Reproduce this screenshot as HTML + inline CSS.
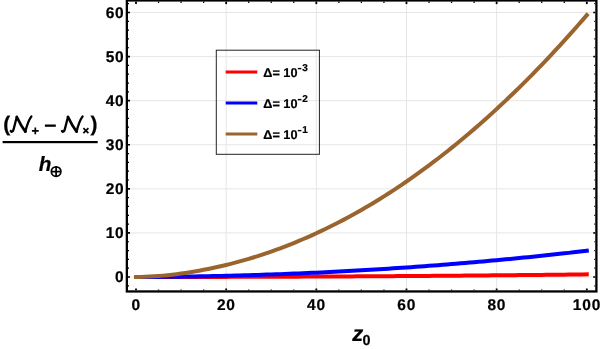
<!DOCTYPE html>
<html><head><meta charset="utf-8"><title>plot</title>
<style>
html,body{margin:0;padding:0;background:#fff;}
body{width:600px;height:349px;overflow:hidden;}
svg{display:block;will-change:transform;}
text{font-family:"Liberation Sans",sans-serif;font-weight:bold;fill:#000;text-rendering:geometricPrecision;stroke:#000;stroke-width:0.22px;}
</style></head><body>
<svg width="600" height="349" viewBox="0 0 600 349">
<rect width="600" height="349" fill="#fff"/>
<g stroke="#e6e6e6" stroke-width="1" fill="none">
<line x1="226.16" y1="1" x2="226.16" y2="290"/>
<line x1="316.32" y1="1" x2="316.32" y2="290"/>
<line x1="406.48" y1="1" x2="406.48" y2="290"/>
<line x1="496.64" y1="1" x2="496.64" y2="290"/>
<line x1="128" y1="277.00" x2="595" y2="277.00"/>
<line x1="128" y1="232.92" x2="595" y2="232.92"/>
<line x1="128" y1="188.83" x2="595" y2="188.83"/>
<line x1="128" y1="144.75" x2="595" y2="144.75"/>
<line x1="128" y1="100.67" x2="595" y2="100.67"/>
<line x1="128" y1="56.58" x2="595" y2="56.58"/>
<line x1="128" y1="12.50" x2="595" y2="12.50"/>
</g>
<polyline points="136.00,277.00 140.51,277.00 145.02,277.00 149.52,277.00 154.03,276.99 158.54,276.99 163.05,276.99 167.56,276.98 172.06,276.98 176.57,276.97 181.08,276.97 185.59,276.96 190.10,276.95 194.60,276.94 199.11,276.94 203.62,276.93 208.13,276.92 212.64,276.91 217.14,276.90 221.65,276.89 226.16,276.88 230.67,276.87 235.18,276.86 239.68,276.84 244.19,276.83 248.70,276.82 253.21,276.81 257.72,276.79 262.22,276.78 266.73,276.76 271.24,276.75 275.75,276.73 280.26,276.71 284.76,276.70 289.27,276.68 293.78,276.66 298.29,276.64 302.80,276.62 307.30,276.60 311.81,276.58 316.32,276.56 320.83,276.54 325.34,276.52 329.84,276.50 334.35,276.48 338.86,276.45 343.37,276.43 347.88,276.40 352.38,276.38 356.89,276.35 361.40,276.33 365.91,276.30 370.42,276.28 374.92,276.25 379.43,276.22 383.94,276.19 388.45,276.16 392.96,276.14 397.46,276.11 401.97,276.08 406.48,276.05 410.99,276.01 415.50,275.98 420.00,275.95 424.51,275.92 429.02,275.88 433.53,275.85 438.04,275.82 442.54,275.78 447.05,275.74 451.56,275.71 456.07,275.67 460.58,275.64 465.08,275.60 469.59,275.56 474.10,275.52 478.61,275.48 483.12,275.44 487.62,275.40 492.13,275.36 496.64,275.32 501.15,275.28 505.66,275.24 510.16,275.19 514.67,275.15 519.18,275.11 523.69,275.06 528.20,275.02 532.70,274.97 537.21,274.92 541.72,274.88 546.23,274.83 550.74,274.78 555.24,274.73 559.75,274.69 564.26,274.64 568.77,274.59 573.28,274.54 577.78,274.49 582.29,274.43 586.80,274.38" fill="none" stroke="#ff0000" stroke-width="4" stroke-linecap="square" stroke-linejoin="round"/>
<polyline points="136.00,277.00 140.51,277.00 145.02,276.98 149.52,276.96 154.03,276.94 158.54,276.90 163.05,276.86 167.56,276.82 172.06,276.77 176.57,276.71 181.08,276.65 185.59,276.59 190.10,276.52 194.60,276.45 199.11,276.37 203.62,276.28 208.13,276.20 212.64,276.10 217.14,276.00 221.65,275.90 226.16,275.79 230.67,275.68 235.18,275.57 239.68,275.44 244.19,275.32 248.70,275.19 253.21,275.05 257.72,274.91 262.22,274.76 266.73,274.61 271.24,274.46 275.75,274.30 280.26,274.13 284.76,273.96 289.27,273.78 293.78,273.60 298.29,273.42 302.80,273.23 307.30,273.03 311.81,272.83 316.32,272.63 320.83,272.42 325.34,272.20 329.84,271.98 334.35,271.75 338.86,271.52 343.37,271.29 347.88,271.05 352.38,270.80 356.89,270.55 361.40,270.29 365.91,270.03 370.42,269.77 374.92,269.49 379.43,269.22 383.94,268.94 388.45,268.65 392.96,268.36 397.46,268.06 401.97,267.76 406.48,267.45 410.99,267.14 415.50,266.82 420.00,266.50 424.51,266.17 429.02,265.83 433.53,265.50 438.04,265.15 442.54,264.80 447.05,264.45 451.56,264.09 456.07,263.72 460.58,263.35 465.08,262.98 469.59,262.60 474.10,262.21 478.61,261.82 483.12,261.42 487.62,261.02 492.13,260.61 496.64,260.20 501.15,259.78 505.66,259.36 510.16,258.93 514.67,258.50 519.18,258.06 523.69,257.61 528.20,257.16 532.70,256.71 537.21,256.24 541.72,255.78 546.23,255.31 550.74,254.83 555.24,254.35 559.75,253.86 564.26,253.36 568.77,252.87 573.28,252.36 577.78,251.85 582.29,251.34 586.80,250.81" fill="none" stroke="#0000ff" stroke-width="4" stroke-linecap="square" stroke-linejoin="round"/>
<polyline points="136.00,277.00 140.51,276.95 145.02,276.83 149.52,276.62 154.03,276.35 158.54,276.02 163.05,275.63 167.56,275.18 172.06,274.69 176.57,274.14 181.08,273.54 185.59,272.90 190.10,272.20 194.60,271.46 199.11,270.67 203.62,269.84 208.13,268.95 212.64,268.02 217.14,267.05 221.65,266.02 226.16,264.95 230.67,263.83 235.18,262.66 239.68,261.44 244.19,260.18 248.70,258.86 253.21,257.50 257.72,256.09 262.22,254.63 266.73,253.12 271.24,251.57 275.75,249.96 280.26,248.30 284.76,246.60 289.27,244.84 293.78,243.04 298.29,241.18 302.80,239.28 307.30,237.32 311.81,235.32 316.32,233.26 320.83,231.16 325.34,229.00 329.84,226.80 334.35,224.54 338.86,222.24 343.37,219.88 347.88,217.47 352.38,215.01 356.89,212.50 361.40,209.94 365.91,207.33 370.42,204.66 374.92,201.95 379.43,199.18 383.94,196.37 388.45,193.50 392.96,190.58 397.46,187.60 401.97,184.58 406.48,181.50 410.99,178.38 415.50,175.20 420.00,171.97 424.51,168.68 429.02,165.35 433.53,161.96 438.04,158.52 442.54,155.03 447.05,151.48 451.56,147.89 456.07,144.24 460.58,140.53 465.08,136.78 469.59,132.97 474.10,129.11 478.61,125.19 483.12,121.23 487.62,117.20 492.13,113.13 496.64,109.00 501.15,104.82 505.66,100.59 510.16,96.30 514.67,91.96 519.18,87.57 523.69,83.12 528.20,78.61 532.70,74.06 537.21,69.45 541.72,64.78 546.23,60.06 550.74,55.29 555.24,50.46 559.75,45.58 564.26,40.65 568.77,35.65 573.28,30.61 577.78,25.51 582.29,20.35 586.80,15.15" fill="none" stroke="#9a642e" stroke-width="4" stroke-linecap="square" stroke-linejoin="round"/>
<rect x="126.85" y="0.45" width="469.54999999999995" height="291.0" fill="none" stroke="#000" stroke-width="2.3"/>
<g stroke="#000" fill="none">
<line x1="136.00" y1="290.30" x2="136.00" y2="288.50" stroke-width="1.8"/>
<line x1="136.00" y1="1.60" x2="136.00" y2="4.10" stroke-width="1.8"/>
<line x1="158.54" y1="290.30" x2="158.54" y2="289.50" stroke-width="1.3"/>
<line x1="158.54" y1="1.60" x2="158.54" y2="3.10" stroke-width="1.3"/>
<line x1="181.08" y1="290.30" x2="181.08" y2="289.50" stroke-width="1.3"/>
<line x1="181.08" y1="1.60" x2="181.08" y2="3.10" stroke-width="1.3"/>
<line x1="203.62" y1="290.30" x2="203.62" y2="289.50" stroke-width="1.3"/>
<line x1="203.62" y1="1.60" x2="203.62" y2="3.10" stroke-width="1.3"/>
<line x1="226.16" y1="290.30" x2="226.16" y2="288.50" stroke-width="1.8"/>
<line x1="226.16" y1="1.60" x2="226.16" y2="4.10" stroke-width="1.8"/>
<line x1="248.70" y1="290.30" x2="248.70" y2="289.50" stroke-width="1.3"/>
<line x1="248.70" y1="1.60" x2="248.70" y2="3.10" stroke-width="1.3"/>
<line x1="271.24" y1="290.30" x2="271.24" y2="289.50" stroke-width="1.3"/>
<line x1="271.24" y1="1.60" x2="271.24" y2="3.10" stroke-width="1.3"/>
<line x1="293.78" y1="290.30" x2="293.78" y2="289.50" stroke-width="1.3"/>
<line x1="293.78" y1="1.60" x2="293.78" y2="3.10" stroke-width="1.3"/>
<line x1="316.32" y1="290.30" x2="316.32" y2="288.50" stroke-width="1.8"/>
<line x1="316.32" y1="1.60" x2="316.32" y2="4.10" stroke-width="1.8"/>
<line x1="338.86" y1="290.30" x2="338.86" y2="289.50" stroke-width="1.3"/>
<line x1="338.86" y1="1.60" x2="338.86" y2="3.10" stroke-width="1.3"/>
<line x1="361.40" y1="290.30" x2="361.40" y2="289.50" stroke-width="1.3"/>
<line x1="361.40" y1="1.60" x2="361.40" y2="3.10" stroke-width="1.3"/>
<line x1="383.94" y1="290.30" x2="383.94" y2="289.50" stroke-width="1.3"/>
<line x1="383.94" y1="1.60" x2="383.94" y2="3.10" stroke-width="1.3"/>
<line x1="406.48" y1="290.30" x2="406.48" y2="288.50" stroke-width="1.8"/>
<line x1="406.48" y1="1.60" x2="406.48" y2="4.10" stroke-width="1.8"/>
<line x1="429.02" y1="290.30" x2="429.02" y2="289.50" stroke-width="1.3"/>
<line x1="429.02" y1="1.60" x2="429.02" y2="3.10" stroke-width="1.3"/>
<line x1="451.56" y1="290.30" x2="451.56" y2="289.50" stroke-width="1.3"/>
<line x1="451.56" y1="1.60" x2="451.56" y2="3.10" stroke-width="1.3"/>
<line x1="474.10" y1="290.30" x2="474.10" y2="289.50" stroke-width="1.3"/>
<line x1="474.10" y1="1.60" x2="474.10" y2="3.10" stroke-width="1.3"/>
<line x1="496.64" y1="290.30" x2="496.64" y2="288.50" stroke-width="1.8"/>
<line x1="496.64" y1="1.60" x2="496.64" y2="4.10" stroke-width="1.8"/>
<line x1="519.18" y1="290.30" x2="519.18" y2="289.50" stroke-width="1.3"/>
<line x1="519.18" y1="1.60" x2="519.18" y2="3.10" stroke-width="1.3"/>
<line x1="541.72" y1="290.30" x2="541.72" y2="289.50" stroke-width="1.3"/>
<line x1="541.72" y1="1.60" x2="541.72" y2="3.10" stroke-width="1.3"/>
<line x1="564.26" y1="290.30" x2="564.26" y2="289.50" stroke-width="1.3"/>
<line x1="564.26" y1="1.60" x2="564.26" y2="3.10" stroke-width="1.3"/>
<line x1="586.80" y1="290.30" x2="586.80" y2="288.50" stroke-width="1.8"/>
<line x1="586.80" y1="1.60" x2="586.80" y2="4.10" stroke-width="1.8"/>
<line x1="128.00" y1="285.82" x2="129.00" y2="285.82" stroke-width="1.2"/>
<line x1="595.25" y1="285.82" x2="594.25" y2="285.82" stroke-width="1.2"/>
<line x1="128.00" y1="277.00" x2="130.00" y2="277.00" stroke-width="1.6"/>
<line x1="595.25" y1="277.00" x2="593.25" y2="277.00" stroke-width="1.6"/>
<line x1="128.00" y1="268.18" x2="129.00" y2="268.18" stroke-width="1.2"/>
<line x1="595.25" y1="268.18" x2="594.25" y2="268.18" stroke-width="1.2"/>
<line x1="128.00" y1="259.37" x2="129.00" y2="259.37" stroke-width="1.2"/>
<line x1="595.25" y1="259.37" x2="594.25" y2="259.37" stroke-width="1.2"/>
<line x1="128.00" y1="250.55" x2="129.00" y2="250.55" stroke-width="1.2"/>
<line x1="595.25" y1="250.55" x2="594.25" y2="250.55" stroke-width="1.2"/>
<line x1="128.00" y1="241.73" x2="129.00" y2="241.73" stroke-width="1.2"/>
<line x1="595.25" y1="241.73" x2="594.25" y2="241.73" stroke-width="1.2"/>
<line x1="128.00" y1="232.92" x2="130.00" y2="232.92" stroke-width="1.6"/>
<line x1="595.25" y1="232.92" x2="593.25" y2="232.92" stroke-width="1.6"/>
<line x1="128.00" y1="224.10" x2="129.00" y2="224.10" stroke-width="1.2"/>
<line x1="595.25" y1="224.10" x2="594.25" y2="224.10" stroke-width="1.2"/>
<line x1="128.00" y1="215.28" x2="129.00" y2="215.28" stroke-width="1.2"/>
<line x1="595.25" y1="215.28" x2="594.25" y2="215.28" stroke-width="1.2"/>
<line x1="128.00" y1="206.47" x2="129.00" y2="206.47" stroke-width="1.2"/>
<line x1="595.25" y1="206.47" x2="594.25" y2="206.47" stroke-width="1.2"/>
<line x1="128.00" y1="197.65" x2="129.00" y2="197.65" stroke-width="1.2"/>
<line x1="595.25" y1="197.65" x2="594.25" y2="197.65" stroke-width="1.2"/>
<line x1="128.00" y1="188.83" x2="130.00" y2="188.83" stroke-width="1.6"/>
<line x1="595.25" y1="188.83" x2="593.25" y2="188.83" stroke-width="1.6"/>
<line x1="128.00" y1="180.02" x2="129.00" y2="180.02" stroke-width="1.2"/>
<line x1="595.25" y1="180.02" x2="594.25" y2="180.02" stroke-width="1.2"/>
<line x1="128.00" y1="171.20" x2="129.00" y2="171.20" stroke-width="1.2"/>
<line x1="595.25" y1="171.20" x2="594.25" y2="171.20" stroke-width="1.2"/>
<line x1="128.00" y1="162.38" x2="129.00" y2="162.38" stroke-width="1.2"/>
<line x1="595.25" y1="162.38" x2="594.25" y2="162.38" stroke-width="1.2"/>
<line x1="128.00" y1="153.57" x2="129.00" y2="153.57" stroke-width="1.2"/>
<line x1="595.25" y1="153.57" x2="594.25" y2="153.57" stroke-width="1.2"/>
<line x1="128.00" y1="144.75" x2="130.00" y2="144.75" stroke-width="1.6"/>
<line x1="595.25" y1="144.75" x2="593.25" y2="144.75" stroke-width="1.6"/>
<line x1="128.00" y1="135.93" x2="129.00" y2="135.93" stroke-width="1.2"/>
<line x1="595.25" y1="135.93" x2="594.25" y2="135.93" stroke-width="1.2"/>
<line x1="128.00" y1="127.12" x2="129.00" y2="127.12" stroke-width="1.2"/>
<line x1="595.25" y1="127.12" x2="594.25" y2="127.12" stroke-width="1.2"/>
<line x1="128.00" y1="118.30" x2="129.00" y2="118.30" stroke-width="1.2"/>
<line x1="595.25" y1="118.30" x2="594.25" y2="118.30" stroke-width="1.2"/>
<line x1="128.00" y1="109.48" x2="129.00" y2="109.48" stroke-width="1.2"/>
<line x1="595.25" y1="109.48" x2="594.25" y2="109.48" stroke-width="1.2"/>
<line x1="128.00" y1="100.67" x2="130.00" y2="100.67" stroke-width="1.6"/>
<line x1="595.25" y1="100.67" x2="593.25" y2="100.67" stroke-width="1.6"/>
<line x1="128.00" y1="91.85" x2="129.00" y2="91.85" stroke-width="1.2"/>
<line x1="595.25" y1="91.85" x2="594.25" y2="91.85" stroke-width="1.2"/>
<line x1="128.00" y1="83.03" x2="129.00" y2="83.03" stroke-width="1.2"/>
<line x1="595.25" y1="83.03" x2="594.25" y2="83.03" stroke-width="1.2"/>
<line x1="128.00" y1="74.22" x2="129.00" y2="74.22" stroke-width="1.2"/>
<line x1="595.25" y1="74.22" x2="594.25" y2="74.22" stroke-width="1.2"/>
<line x1="128.00" y1="65.40" x2="129.00" y2="65.40" stroke-width="1.2"/>
<line x1="595.25" y1="65.40" x2="594.25" y2="65.40" stroke-width="1.2"/>
<line x1="128.00" y1="56.58" x2="130.00" y2="56.58" stroke-width="1.6"/>
<line x1="595.25" y1="56.58" x2="593.25" y2="56.58" stroke-width="1.6"/>
<line x1="128.00" y1="47.77" x2="129.00" y2="47.77" stroke-width="1.2"/>
<line x1="595.25" y1="47.77" x2="594.25" y2="47.77" stroke-width="1.2"/>
<line x1="128.00" y1="38.95" x2="129.00" y2="38.95" stroke-width="1.2"/>
<line x1="595.25" y1="38.95" x2="594.25" y2="38.95" stroke-width="1.2"/>
<line x1="128.00" y1="30.13" x2="129.00" y2="30.13" stroke-width="1.2"/>
<line x1="595.25" y1="30.13" x2="594.25" y2="30.13" stroke-width="1.2"/>
<line x1="128.00" y1="21.32" x2="129.00" y2="21.32" stroke-width="1.2"/>
<line x1="595.25" y1="21.32" x2="594.25" y2="21.32" stroke-width="1.2"/>
<line x1="128.00" y1="12.50" x2="130.00" y2="12.50" stroke-width="1.6"/>
<line x1="595.25" y1="12.50" x2="593.25" y2="12.50" stroke-width="1.6"/>
<line x1="128.00" y1="3.68" x2="129.00" y2="3.68" stroke-width="1.2"/>
<line x1="595.25" y1="3.68" x2="594.25" y2="3.68" stroke-width="1.2"/>
</g>
<g font-size="15.5" letter-spacing="0.8">
<text x="124.5" y="282.20" text-anchor="end">0</text>
<text x="124.5" y="238.12" text-anchor="end">10</text>
<text x="124.5" y="194.03" text-anchor="end">20</text>
<text x="124.5" y="149.95" text-anchor="end">30</text>
<text x="124.5" y="105.87" text-anchor="end">40</text>
<text x="124.5" y="61.78" text-anchor="end">50</text>
<text x="124.5" y="17.70" text-anchor="end">60</text>
<text x="136.20" y="310.3" text-anchor="middle">0</text>
<text x="226.36" y="310.3" text-anchor="middle">20</text>
<text x="316.52" y="310.3" text-anchor="middle">40</text>
<text x="406.68" y="310.3" text-anchor="middle">60</text>
<text x="496.84" y="310.3" text-anchor="middle">80</text>
<text x="587.00" y="310.3" text-anchor="middle">100</text>
</g>
<rect x="216.3" y="50.2" width="103.1" height="104.1" fill="none" stroke="#222" stroke-width="1"/>
<line x1="225.7" y1="72" x2="257.3" y2="72" stroke="#ff0000" stroke-width="3.2"/>
<text x="263.3" y="76.7" font-size="12.7">Δ= 10</text>
<rect x="297.8" y="67.9" width="3.6" height="1.4" fill="#000"/>
<text x="302.3" y="70.6" font-size="10">3</text>
<line x1="225.7" y1="103" x2="257.3" y2="103" stroke="#0000ff" stroke-width="3.2"/>
<text x="263.3" y="107.7" font-size="12.7">Δ= 10</text>
<rect x="297.8" y="98.9" width="3.6" height="1.4" fill="#000"/>
<text x="302.3" y="101.6" font-size="10">2</text>
<line x1="225.7" y1="134" x2="257.3" y2="134" stroke="#9a642e" stroke-width="3.2"/>
<text x="263.3" y="138.7" font-size="12.7">Δ= 10</text>
<rect x="297.8" y="129.9" width="3.6" height="1.4" fill="#000"/>
<text x="302.3" y="132.6" font-size="10">1</text>
<text x="352.3" y="341.3" font-size="22" font-style="italic">z</text>
<text x="362.6" y="345" font-size="14.4">0</text>
<rect x="2.6" y="141" width="95.1" height="2.2" fill="#000"/>
<text x="3.3" y="131.4" font-size="21">(</text>
<text x="90.4" y="131.4" font-size="21">)</text>
<g transform="translate(0,0)" fill="none" stroke="#000" stroke-linecap="round" stroke-linejoin="round"><path d="M10.8,131.0 C11.7,132.3 12.9,131.7 13.5,129.6 C14.6,125.6 15.7,120.8 16.8,117.0" stroke-width="2.3"/><path d="M16.8,117.0 C19.2,122.0 22.5,127.8 25.4,131.6" stroke-width="2.8"/><path d="M25.4,131.6 C26.6,126.4 28.7,120.2 31.4,116.4" stroke-width="2.3"/></g>
<g transform="translate(51.2,0)" fill="none" stroke="#000" stroke-linecap="round" stroke-linejoin="round"><path d="M10.8,131.0 C11.7,132.3 12.9,131.7 13.5,129.6 C14.6,125.6 15.7,120.8 16.8,117.0" stroke-width="2.3"/><path d="M16.8,117.0 C19.2,122.0 22.5,127.8 25.4,131.6" stroke-width="2.8"/><path d="M25.4,131.6 C26.6,126.4 28.7,120.2 31.4,116.4" stroke-width="2.3"/></g>
<path d="M31.9,130.9 h6.8 M35.3,127.5 v6.8" stroke="#000" stroke-width="1.7" fill="none"/>
<rect x="44.9" y="124.5" width="10.9" height="2.3" fill="#000"/>
<path d="M83.4,128.2 l5,5 M88.4,128.2 l-5,5" stroke="#000" stroke-width="1.7" fill="none"/>
<text x="38.7" y="171.4" font-size="20.7" font-style="italic">h</text>
<g stroke="#000" stroke-width="1.7" fill="none"><circle cx="56.1" cy="171.6" r="4.8"/><path d="M51.3,171.6 h9.6 M56.1,166.8 v9.6"/></g>
</svg>
</body></html>
